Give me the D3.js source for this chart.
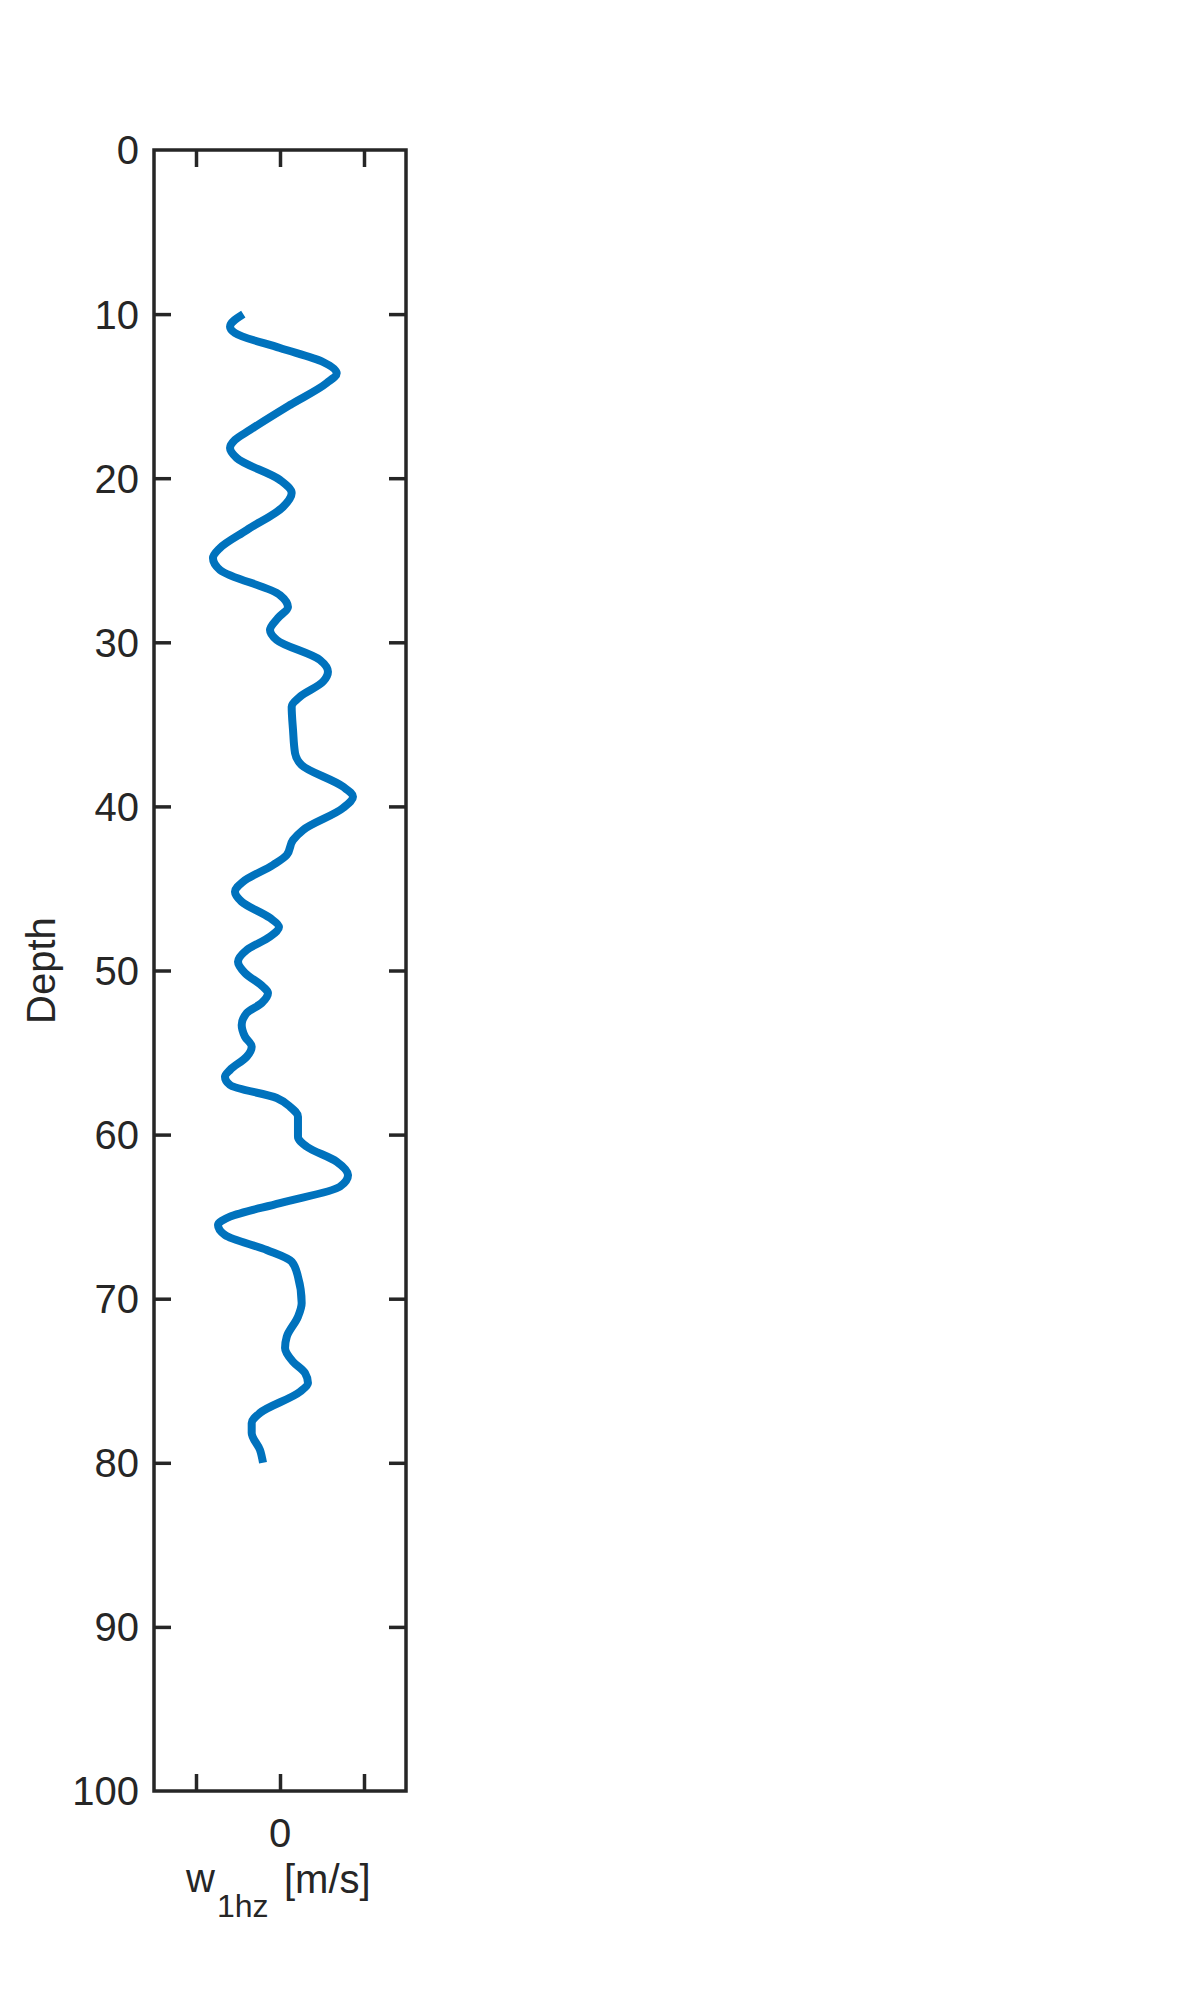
<!DOCTYPE html>
<html>
<head>
<meta charset="utf-8">
<script src="https://cdn.jsdelivr.net/npm/d3@7"></script>
<style>
  html, body { margin: 0; padding: 0; background: #fff; }
  svg { display: block; }
  text { font-family: "Liberation Sans", Arial, Helvetica, sans-serif; fill: #262626; }
</style>
</head>
<body>
<svg id="chart" width="1181" height="2013"></svg>
<script>
// ---- data ----
const depth = [10.0, 10.77, 11.15, 12.07, 12.92, 13.61, 14.20, 15.54, 17.06, 17.67, 18.16, 18.77, 20.11, 20.90, 21.75,
  23.16, 24.25, 24.86, 25.59, 27.12, 27.85, 28.52, 29.25, 29.86, 31.08, 31.79, 32.40, 33.32, 33.92, 35.34, 36.75,
  37.48, 38.80, 39.41, 40.10, 41.44, 42.05, 42.96, 43.57, 44.59, 45.20, 45.81, 46.80, 47.35, 47.94, 48.75, 49.46,
  50.15, 50.99, 51.37, 51.98, 52.59, 53.32, 54.03, 54.64, 55.25, 56.06, 56.47, 56.98, 57.77, 58.30, 58.91, 60.13,
  60.73, 61.65, 62.46, 63.17, 64.17, 65.00, 65.51, 66.12, 67.03, 67.74, 68.66, 70.26, 71.10, 72.32, 73.00, 73.84,
  74.53, 75.14, 75.67, 76.96, 77.57, 78.18, 79.22, 80.0];
const w1hz = [-0.0437, -0.0595, -0.0536, 0.0, 0.0512, 0.0675, 0.0556, 0.0119, -0.0357, -0.0536, -0.0595, -0.0515, 0.0, 0.0139, 0.0036,
  -0.0396, -0.0714, -0.0798, -0.0714, 0.0, 0.0095, -0.0024, -0.0119, -0.0039, 0.0476, 0.0571, 0.0512, 0.0238, 0.0139, 0.0155, 0.0179,
  0.0258, 0.075, 0.0869, 0.075, 0.0274, 0.0155, 0.008, -0.0083, -0.044, -0.0536, -0.0456, -0.0119, -0.0012, -0.0119, -0.0396, -0.05,
  -0.0417, -0.0202, -0.0143, -0.0218, -0.0396, -0.0456, -0.0417, -0.0337, -0.0396, -0.0595, -0.0655, -0.0595, -0.0039, 0.0119, 0.0214, 0.0214,
  0.0318, 0.0675, 0.081, 0.0714, 0.0, -0.0595, -0.0738, -0.0655, -0.0158, 0.0139, 0.0214, 0.0258, 0.0214, 0.008, 0.006, 0.0155,
  0.0298, 0.0333, 0.0238, -0.0238, -0.0337, -0.0337, -0.0238, -0.0202];
const yTicks = [0, 10, 20, 30, 40, 50, 60, 70, 80, 90, 100];
const xTicks = [-0.1, 0, 0.1];
const xTickLabels = ["", "0", ""];
const xDomain = [-0.15, 0.15];
const yDomain = [0, 100];

// ---- layout ----
const L = 154, T = 150, W = 252, H = 1641;
const svg = d3.select("#chart");
const x = d3.scaleLinear().domain(xDomain).range([L, L + W]);
const y = d3.scaleLinear().domain(yDomain).range([T, T + H]);
const axisColor = "#262626";
const tickLen = 17, sw = 3.5;

// data line
const pts = depth.map((d, i) => [w1hz[i], d]);
const line = d3.line().x(d => x(d[0])).y(d => y(d[1])).curve(d3.curveMonotoneY);
svg.append("path").datum(pts)
  .attr("d", line)
  .attr("fill", "none")
  .attr("stroke", "#0072BD")
  .attr("stroke-width", 8)
  .attr("stroke-linejoin", "round")
  .attr("stroke-linecap", "butt");

// axes using d3 axis generators (ticks inward)
const gL = svg.append("g").attr("transform", `translate(${L},0)`)
  .call(d3.axisRight(y).tickValues(yTicks).tickSize(tickLen).tickFormat(""));
const gR = svg.append("g").attr("transform", `translate(${L + W},0)`)
  .call(d3.axisLeft(y).tickValues(yTicks).tickSize(tickLen).tickFormat(""));
const gB = svg.append("g").attr("transform", `translate(0,${T + H})`)
  .call(d3.axisTop(x).tickValues(xTicks).tickSize(tickLen).tickFormat(""));
const gT = svg.append("g").attr("transform", `translate(0,${T})`)
  .call(d3.axisBottom(x).tickValues(xTicks).tickSize(tickLen).tickFormat(""));
[gL, gR, gB, gT].forEach(g => {
  g.select(".domain").remove();
  g.selectAll(".tick line").attr("stroke", axisColor).attr("stroke-width", sw);
});
[gL, gR].forEach(g => g.selectAll(".tick").filter(d => d === 0 || d === 100).remove());

// box
svg.append("rect")
  .attr("x", L).attr("y", T).attr("width", W).attr("height", H)
  .attr("fill", "none").attr("stroke", axisColor).attr("stroke-width", sw);

// y tick labels
svg.append("g").selectAll("text").data(yTicks).join("text")
  .attr("x", L - 15)
  .attr("y", d => y(d))
  .attr("dy", "0.36em")
  .attr("text-anchor", "end")
  .attr("font-size", 40)
  .text(d => d);

// x tick labels
svg.append("g").selectAll("text").data(xTicks).join("text")
  .attr("x", d => x(d))
  .attr("y", 1847)
  .attr("text-anchor", "middle")
  .attr("font-size", 40)
  .text((d, i) => xTickLabels[i]);

// x label: w_{1hz} [m/s]
const xl = svg.append("text").attr("x", 186).attr("y", 1892).attr("font-size", 40);
xl.append("tspan").text("w");
xl.append("tspan").attr("font-size", 32).attr("x", 217).attr("y", 1917).text("1hz");
xl.append("tspan").attr("x", 284).attr("y", 1893).text("[m/s]");

// y label
svg.append("text")
  .attr("transform", `translate(55,${T + H / 2}) rotate(-90)`)
  .attr("text-anchor", "middle")
  .attr("font-size", 40)
  .text("Depth");
</script>
</body>
</html>
